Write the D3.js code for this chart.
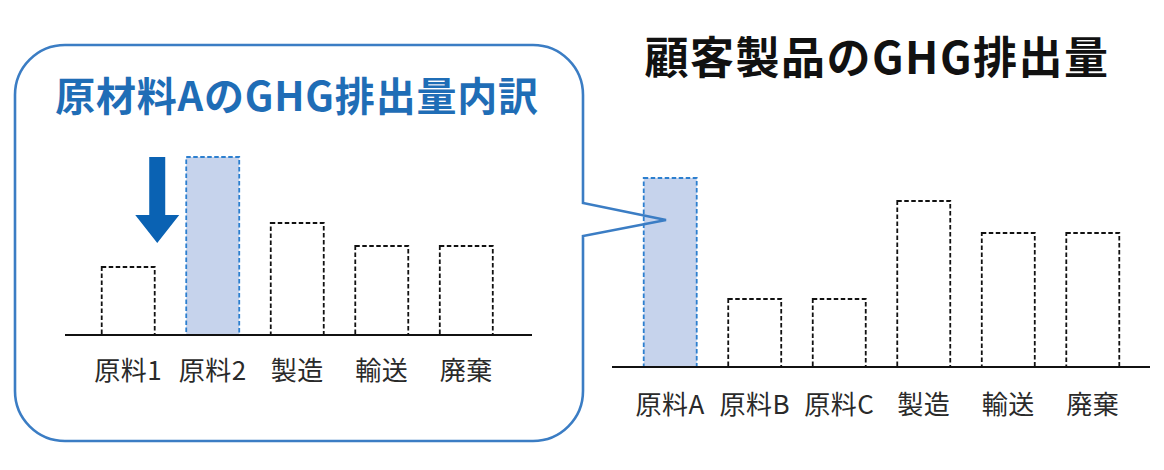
<!DOCTYPE html>
<html>
<head>
<meta charset="utf-8">
<script src="https://cdn.jsdelivr.net/npm/d3@7"></script>
<style>
  body { margin: 0; background: #fff; }
  text { font-family: "Noto Sans CJK JP", "Noto Sans", sans-serif; }
</style>
</head>
<body>
<div class="chart"></div>
<script>
// data
var detailCategories = ["原料1", "原料2", "製造", "輸送", "廃棄"];
var detailValues = [68, 178, 112, 89, 89];
var detailHighlight = "原料2";

var productCategories = ["原料A", "原料B", "原料C", "製造", "輸送", "廃棄"];
var productValues = [189, 68, 68, 166, 134, 134];
var productHighlight = "原料A";

var detailTitle = "原材料AのGHG排出量内訳";
var productTitle = "顧客製品のGHG排出量";

var svgWidth = 1164;
var svgHeight = 470;

var svg = d3.select(".chart")
  .append("svg")
  .attr("width", svgWidth)
  .attr("height", svgHeight);

// callout box with pointer
var bx0 = 15, by0 = 45, bx1 = 583, by1 = 441, r = 50;
var calloutPath = [
  "M", bx0 + r, by0,
  "H", bx1 - r,
  "A", r, r, 0, 0, 1, bx1, by0 + r,
  "V", 203,
  "L", 666, 220,
  "L", bx1, 236,
  "V", by1 - r,
  "A", r, r, 0, 0, 1, bx1 - r, by1,
  "H", bx0 + r,
  "A", r, r, 0, 0, 1, bx0, by1 - r,
  "V", by0 + r,
  "A", r, r, 0, 0, 1, bx0 + r, by0,
  "Z"
].join(" ");

// shared value scale (1px per unit)
function drawBars(g, categories, values, highlight, range, baseline, lineRange, labelY) {
  var x = d3.scaleBand()
    .domain(categories)
    .range(range)
    .paddingInner(0.373)
    .paddingOuter(0.186);

  var y = d3.scaleLinear()
    .domain([0, 200])
    .range([baseline, baseline - 200]);

  var data = categories.map(function(c, i) { return {cat: c, val: values[i]}; });

  g.selectAll("rect.bar")
    .data(data)
    .enter()
    .append("rect")
    .attr("class", "bar")
    .attr("x", d => x(d.cat))
    .attr("y", d => y(d.val))
    .attr("width", x.bandwidth())
    .attr("height", d => y(0) - y(d.val))
    .attr("fill", d => d.cat === highlight ? "#c6d3ec" : "none")
    .attr("stroke", d => d.cat === highlight ? "#2c7fcf" : "#111")
    .attr("stroke-width", 1.8)
    .attr("stroke-dasharray", "4.5,2.5");

  g.append("line")
    .attr("x1", lineRange[0])
    .attr("x2", lineRange[1])
    .attr("y1", y(0))
    .attr("y2", y(0))
    .attr("stroke", "#111")
    .attr("stroke-width", 2);

  var axis = g.append("g")
    .attr("transform", `translate(0, ${labelY})`)
    .call(d3.axisBottom(x).tickSize(0).tickPadding(0));
  axis.select(".domain").remove();
  axis.selectAll("text")
    .attr("dy", "0.35em")
    .attr("font-size", 26)
    .attr("letter-spacing", 0.5)
    .attr("fill", "#2a2a2a")
    .style("font-family", '"Noto Sans CJK JP", sans-serif');

  return {x: x, y: y};
}

// right chart
var right = svg.append("g");
var rs = drawBars(right, productCategories, productValues, productHighlight,
  [628, 1135], 367, [612, 1150], 405);

right.append("text")
  .attr("x", 877)
  .attr("y", 59)
  .attr("dy", "0.35em")
  .attr("text-anchor", "middle")
  .attr("font-size", 44)
  .attr("letter-spacing", 1.5)
  .attr("font-weight", "bold")
  .attr("fill", "#111")
  .text(productTitle);

// left chart
var left = svg.append("g");
var ls = drawBars(left, detailCategories, detailValues, detailHighlight,
  [86, 508.5], 335, [65, 532], 371);

left.append("text")
  .attr("x", 297)
  .attr("y", 97)
  .attr("dy", "0.35em")
  .attr("text-anchor", "middle")
  .attr("font-size", 40)
  .attr("letter-spacing", 0.8)
  .attr("font-weight", "bold")
  .attr("fill", "#1f6db6")
  .text(detailTitle);

// down arrow next to highlighted bar
var ax = ls.x(detailHighlight) - 29;
left.append("path")
  .attr("d", `M${ax - 8},157 H${ax + 8} V215 H${ax + 22} L${ax},243 L${ax - 22},215 H${ax - 8} Z`)
  .attr("fill", "#0a62b3");

// callout drawn on top
svg.append("path")
  .attr("d", calloutPath)
  .attr("fill", "none")
  .attr("stroke", "#3b7dc4")
  .attr("stroke-width", 2.6)
  .attr("stroke-linejoin", "miter");
</script>
</body>
</html>
